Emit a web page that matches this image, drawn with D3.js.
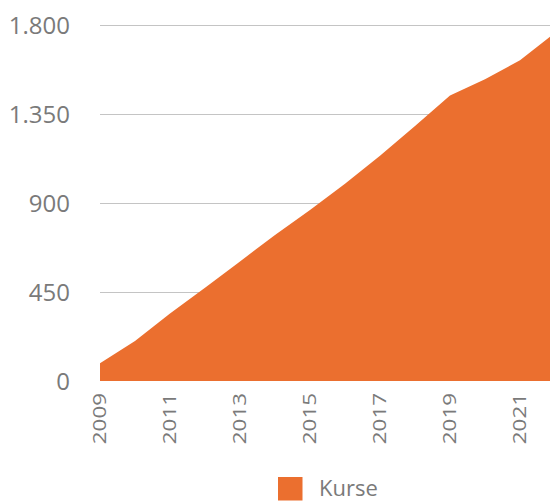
<!DOCTYPE html>
<html>
<head>
<meta charset="utf-8">
<script src="https://cdn.jsdelivr.net/npm/d3@7"></script>
<style>
  html, body { margin: 0; padding: 0; background: #fff; }
  svg { display: block; }
  svg text { font-family: "Open Sans", sans-serif; }
</style>
</head>
<body>
<div id="chart"></div>
<script>
// Données
const annees = [2009, 2010, 2011, 2012, 2013, 2014, 2015, 2016, 2017, 2018, 2019, 2020, 2021, 2022];
const kurse = [90, 202, 342, 472, 605, 739, 865, 998, 1140, 1290, 1445, 1527, 1623, 1762];
const yTicks = [0, 450, 900, 1350, 1800];
const xTicks = [2009, 2011, 2013, 2015, 2017, 2019, 2021];
const serieNom = "Kurse";

const W = 550, H = 501;
const couleur = "#eb6f2f";
const gris = "#7a7a7a";
const police = "'Open Sans', sans-serif";

const svg = d3.select("#chart").append("svg")
    .attr("width", W)
    .attr("height", H);

// Échelles
const x = d3.scaleLinear().domain([2009, 2022]).range([100, 555]);
const y = d3.scaleLinear().domain([0, 1800]).range([381, 25.3]);

// Grille horizontale
svg.append("g")
    .selectAll("line")
    .data(yTicks.filter(d => d > 0))
    .join("line")
    .attr("x1", 100)
    .attr("x2", W)
    .attr("y1", d => Math.round(y(d)) + 0.5)
    .attr("y2", d => Math.round(y(d)) + 0.5)
    .attr("stroke", "#c4c4c4")
    .attr("stroke-width", 1);

// Aire
const aire = d3.area()
    .x((d, i) => x(annees[i]))
    .y0(y(0))
    .y1(d => y(d));

svg.append("path")
    .datum(kurse)
    .attr("d", aire)
    .attr("fill", couleur);

// Axe Y (libellés)
const fmt = d3.formatLocale({ decimal: ",", thousands: ".", grouping: [3], currency: ["", "€"] }).format(",d");
const axeY = d3.axisLeft(y).tickValues(yTicks).tickSize(0).tickPadding(0).tickFormat(fmt);
svg.append("g")
    .attr("transform", "translate(70,0)")
    .call(axeY)
    .attr("font-family", police)
    .call(g => g.select(".domain").remove())
    .selectAll("text")
    .attr("fill", gris)
    .attr("dy", "0.36em")
    .style("font-family", police)
    .style("font-size", "24px");

// Axe X (libellés pivotés)
svg.append("g")
    .selectAll("text")
    .data(xTicks)
    .join("text")
    .attr("transform", d => `translate(${x(d)},393) rotate(-90) scale(1.28,1)`)
    .attr("text-anchor", "end")
    .attr("dy", "0.36em")
    .attr("fill", gris)
    .style("font-family", police)
    .style("font-size", "17.5px")
    .text(d => d);

// Légende
const leg = svg.append("g").attr("transform", "translate(278,477)");
leg.append("rect")
    .attr("width", 24.5)
    .attr("height", 23.5)
    .attr("fill", couleur);
leg.append("text")
    .attr("x", 41)
    .attr("y", 18.5)
    .attr("fill", gris)
    .style("font-family", police)
    .style("font-size", "22px")
    .text(serieNom);
</script>
</body>
</html>
